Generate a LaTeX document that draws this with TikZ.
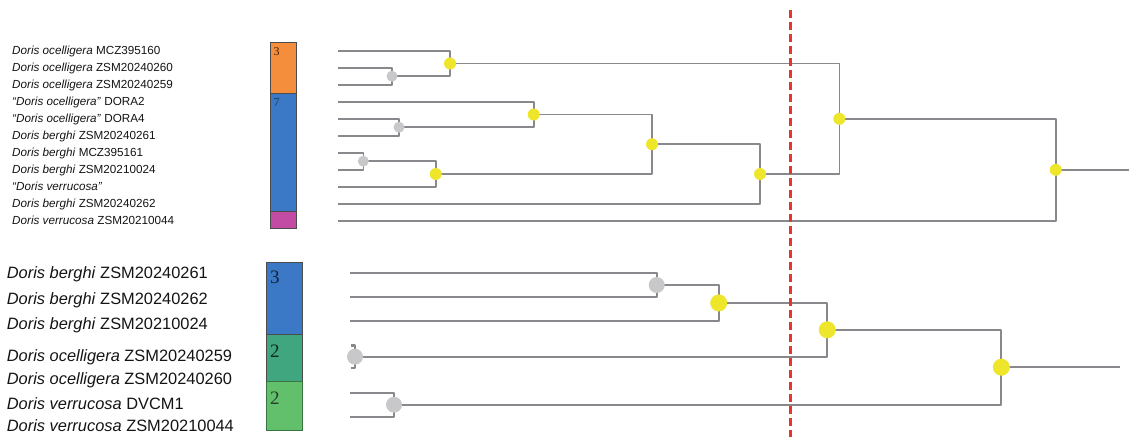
\documentclass[tikz,border=0pt]{standalone}
\usepackage{fontspec}
\setmainfont{Liberation Sans}
\newfontfamily\barfont{Liberation Serif}
\pgfdeclarelayer{bg}
\pgfsetlayers{bg,main}
\definecolor{treegray}{RGB}{136,136,141}
\definecolor{dotyellow}{RGB}{238,230,42}
\definecolor{dotgray}{RGB}{200,200,203}
\definecolor{cutred}{RGB}{232,52,46}
\definecolor{barorange}{RGB}{245,142,60}
\definecolor{barblue}{RGB}{59,121,198}
\definecolor{barmagenta}{RGB}{194,75,163}
\definecolor{barteal}{RGB}{64,166,128}
\definecolor{bargreen}{RGB}{98,191,108}
\definecolor{labtext}{RGB}{20,20,20}
\begin{document}
\begin{tikzpicture}[x=1pt,y=-1pt,
  tline/.style={draw=treegray,line width=1.6pt,line join=round},
  bline/.style={draw=treegray,line width=2.2pt,line join=round},
  ysmall/.style={circle,fill=dotyellow,inner sep=0pt,minimum size=12pt},
  gsmall/.style={circle,fill=dotgray,inner sep=0pt,minimum size=11pt},
  ybig/.style={circle,fill=dotyellow,inner sep=0pt,minimum size=17pt},
  gbig/.style={circle,fill=dotgray,inner sep=0pt,minimum size=16pt},
  toplab/.style={anchor=base west,inner sep=0pt,text=labtext,font=\fontsize{11.7}{13}\selectfont},
  botlab/.style={anchor=base west,inner sep=0pt,text=labtext,font=\fontsize{16.4}{18}\selectfont},
  barcell/.style={draw=black!70,line width=0.8pt},
  topnum/.style={anchor=north west,inner sep=0pt,font=\barfont\fontsize{12}{12}\selectfont},
  botnum/.style={anchor=north west,inner sep=0pt,font=\barfont\fontsize{19}{19}\selectfont}]
\useasboundingbox (0,0) rectangle (1129,437);

% ---------- top labels ----------
\node[toplab] (lt1)  at (12,54.9)  {\textit{Doris ocelligera} MCZ395160};
\node[toplab] (lt2)  at (12,71.9)  {\textit{Doris ocelligera} ZSM20240260};
\node[toplab] (lt3)  at (12,88.9)  {\textit{Doris ocelligera} ZSM20240259};
\node[toplab] (lt4)  at (12,105.9) {\textit{“Doris ocelligera”} DORA2};
\node[toplab] (lt5)  at (12,122.9) {\textit{“Doris ocelligera”} DORA4};
\node[toplab] (lt6)  at (12,139.9) {\textit{Doris berghi} ZSM20240261};
\node[toplab] (lt7)  at (12,156.9) {\textit{Doris berghi} MCZ395161};
\node[toplab] (lt8)  at (12,173.9) {\textit{Doris berghi} ZSM20210024};
\node[toplab] (lt9)  at (12,190.9) {\textit{“Doris verrucosa”}};
\node[toplab] (lt10) at (12,207.9) {\textit{Doris berghi} ZSM20240262};
\node[toplab] (lt11) at (12,224.9) {\textit{Doris verrucosa} ZSM20210044};

% ---------- bottom labels ----------
\node[botlab] (lb1) at (6.7,278.9) {\textit{Doris berghi} ZSM20240261};
\node[botlab] (lb2) at (6.7,304.4) {\textit{Doris berghi} ZSM20240262};
\node[botlab] (lb3) at (6.7,329.4) {\textit{Doris berghi} ZSM20210024};
\node[botlab] (lb4) at (6.7,361.4) {\textit{Doris ocelligera} ZSM20240259};
\node[botlab] (lb5) at (6.7,384.4) {\textit{Doris ocelligera} ZSM20240260};
\node[botlab] (lb6) at (6.7,409.4) {\textit{Doris verrucosa} DVCM1};
\node[botlab] (lb7) at (6.7,431.9) {\textit{Doris verrucosa} ZSM20210044};

% ---------- bars ----------
\path[barcell,fill=barorange]  (270,42.3) rectangle (296.5,93.3);
\path[barcell,fill=barblue]    (270,93.3) rectangle (296.5,211.7);
\path[barcell,fill=barmagenta] (270,211.7) rectangle (296.5,228.3);
\node[topnum,text=black!75!barorange] (n3t) at (273.5,47) {3};
\node[topnum,text=black!50!barblue] (n7t) at (273.5,98) {7};

\path[barcell,fill=barblue]  (266.7,262.3) rectangle (302.3,334.3);
\path[barcell,fill=barteal]  (266.7,334.3) rectangle (302.3,381.7);
\path[barcell,fill=bargreen,draw=black!40!bargreen] (266.7,381.7) rectangle (302.3,430);
\node[botnum,text=black!70!barblue] (n3b) at (270,271) {3};
\node[botnum,text=black!75!barteal] (n2a) at (270,345) {2};
\node[botnum,text=black!65!bargreen] (n2b) at (270,392) {2};

% ---------- top tree ----------
\foreach \i/\yy in {1/50.7,2/67.7,3/84.7,4/101.7,5/118.7,6/135.7,7/152.7,8/169.7,9/186.7,10/203.7,11/220.7}
  \coordinate (t\i) at (338,\yy);
\node[gsmall] (A) at (392,76.2) {};
\node[ysmall] (B) at (450,63.5) {};
\node[gsmall] (C) at (399,127.2) {};
\node[ysmall] (D) at (533.7,114.5) {};
\node[gsmall] (E) at (363.3,161.2) {};
\node[ysmall] (F) at (435.7,174) {};
\node[ysmall] (G) at (652,144.2) {};
\node[ysmall] (H) at (760,174) {};
\node[ysmall] (I) at (839.3,118.8) {};
\node[ysmall] (J) at (1055.7,169.8) {};
\coordinate (Jend) at (1129,169.8);

\begin{pgfonlayer}{bg}
\draw[tline] (t2) -| (A.center);
\draw[tline] (t3) -| (A.center);
\draw[tline] (t1) -| (B.center);
\draw[tline] (A.center) -| (B.center);
\draw[tline] (t5) -| (C.center);
\draw[tline] (t6) -| (C.center);
\draw[tline] (t4) -| (D.center);
\draw[tline] (C.center) -| (D.center);
\draw[tline] (t7) -| (E.center);
\draw[tline] (t8) -| (E.center);
\draw[tline] (E.center) -| (F.center);
\draw[tline] (t9) -| (F.center);
\draw[tline] (D.center) -| (G.center);
\draw[tline] (F.center) -| (G.center);
\draw[tline] (G.center) -| (H.center);
\draw[tline] (t10) -| (H.center);
\draw[tline] (B.center) -| (I.center);
\draw[tline] (H.center) -| (I.center);
\draw[tline] (I.center) -| (J.center);
\draw[tline] (t11) -| (J.center);
\draw[tline] (J.center) -- (Jend);
\end{pgfonlayer}

% ---------- bottom tree ----------
\foreach \i/\yy in {1/273,2/297,3/320.7,6/392.7,7/416.7}
  \coordinate (b\i) at (350,\yy);
\coordinate (b4) at (351,345.5);
\coordinate (b5) at (351,368);
\node[gbig] (K) at (656.7,285) {};
\node[ybig] (L) at (718.7,302.9) {};
\node[gbig] (M) at (355,356.7) {};
\node[gbig] (N) at (394,404.7) {};
\node[ybig] (O) at (827.3,329.8) {};
\node[ybig] (P) at (1001.3,367.2) {};
\coordinate (Pend) at (1120,367.2);

\begin{pgfonlayer}{bg}
\draw[bline] (b1) -| (K.center);
\draw[bline] (b2) -| (K.center);
\draw[bline] (K.center) -| (L.center);
\draw[bline] (b3) -| (L.center);
\draw[bline] (b4) -| (M.center);
\draw[bline] (b5) -| (M.center);
\draw[bline] (b6) -| (N.center);
\draw[bline] (b7) -| (N.center);
\draw[bline] (L.center) -| (O.center);
\draw[bline] (M.center) -| (O.center);
\draw[bline] (O.center) -| (P.center);
\draw[bline] (N.center) -| (P.center);
\draw[bline] (P.center) -- (Pend);
\end{pgfonlayer}

% ---------- cut-off line ----------
\coordinate (cutTop) at (790.3,10);
\coordinate (cutBot) at (790.3,437);
\draw[cutred,line width=2.4pt,dash pattern=on 8pt off 4pt] (cutTop) -- (cutBot);
\end{tikzpicture}
\end{document}
